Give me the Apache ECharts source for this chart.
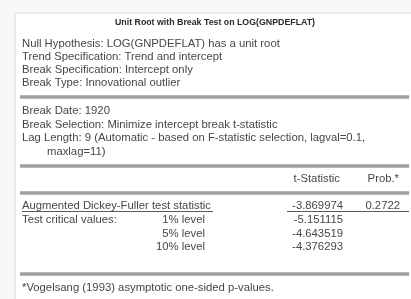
<!DOCTYPE html>
<html><head><meta charset="utf-8">
<script src="https://cdn.jsdelivr.net/npm/echarts@6/dist/echarts.min.js"></script>
<style>html,body{margin:0;padding:0;background:#fff}#c{width:411px;height:299px}</style>
</head><body><div id="c"></div>
<script>
const title = 'Unit Root with Break Test on LOG(GNPDEFLAT)';
const specLines = [
  'Null Hypothesis: LOG(GNPDEFLAT) has a unit root',
  'Trend Specification: Trend and intercept',
  'Break Specification: Intercept only',
  'Break Type: Innovational outlier'
];
const breakLines = [
  'Break Date: 1920',
  'Break Selection: Minimize intercept break t-statistic',
  'Lag Length: 9 (Automatic - based on F-statistic selection, lagval=0.1,',
  '      maxlag=11)'
];
const colHeaders = ['t-Statistic', 'Prob.*'];
const adfLabel = 'Augmented Dickey-Fuller test statistic';
const adfStat = '-3.869974';
const adfProb = '0.2722';
const critLabel = 'Test critical values:';
const critLevels = ['1% level', '5% level', '10% level'];
const critValues = ['-5.151115', '-4.643519', '-4.376293'];
const footnote = '*Vogelsang (1993) asymptotic one-sided p-values.';

const FONT = '"Liberation Sans", Arial, sans-serif';
const TXT = '#474747';
const FS = 11.3;
const g = [];
function txt(x, y, s, opt) {
  opt = opt || {};
  g.push({type: 'text', x: x, y: y, silent: true,
    style: {text: s, fill: opt.fill || TXT, font: (opt.weight || 'normal') + ' ' + (opt.size || FS) + 'px ' + FONT,
      textAlign: opt.align || 'left', textVerticalAlign: 'middle'}});
}
function hline(x1, x2, y, w, c) {
  g.push({type: 'line', silent: true, shape: {x1: x1, y1: y, x2: x2, y2: y}, style: {stroke: c, lineWidth: w}});
}
// frame
g.push({type: 'rect', shape: {x: 0, y: 0, width: 411, height: 299}, style: {fill: '#f7f7f7'}, silent: true});
g.push({type: 'rect', shape: {x: 15, y: 13, width: 400, height: 290}, style: {fill: '#fff', stroke: '#d8d8d8', lineWidth: 1}, silent: true});

txt(215, 23, title, {weight: 'bold', size: 8.8, align: 'center', fill: '#2a2a2a'});
const L = 22;
specLines.forEach((s, i) => txt(L, 44 + i * 13, s));
hline(20, 409, 97, 3.5, '#9f9f9f');
breakLines.forEach((s, i) => txt(i === 3 ? 47 : L, 111 + i * 13.6, s.trim()));
hline(20, 409, 166, 3.5, '#9f9f9f');
txt(340, 179, colHeaders[0], {align: 'right'});
txt(399, 179, colHeaders[1], {align: 'right'});
hline(20, 409, 193, 3.5, '#9f9f9f');
txt(L, 206, adfLabel);
hline(L, 213, 211.5, 1, '#5a5a5a');
txt(343, 206, adfStat, {align: 'right'});
txt(400, 206, adfProb, {align: 'right'});
hline(287, 409, 211.5, 1, '#5a5a5a');
txt(L, 220, critLabel);
critLevels.forEach((s, i) => {
  txt(205, 220 + i * 13.5, s, {align: 'right'});
  txt(343, 220 + i * 13.5, critValues[i], {align: 'right'});
});
hline(20, 409, 274, 3.5, '#9f9f9f');
txt(L, 288, footnote);

const chart = echarts.init(document.getElementById('c'), null, {renderer: 'canvas'});
chart.setOption({animation: false, graphic: {elements: g}});
</script></body></html>
